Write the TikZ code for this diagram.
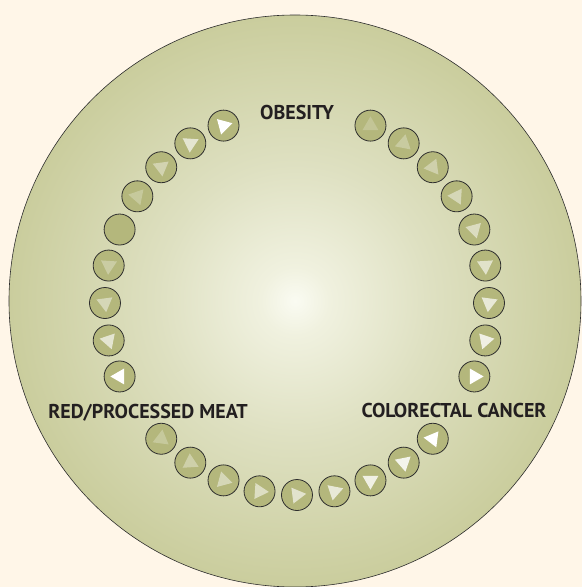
\documentclass[tikz,border=0pt]{standalone}
\usepackage{fontspec}
\setmainfont{PT Sans}
\usetikzlibrary{shapes.geometric}
\definecolor{cream}{HTML}{FFF6E8}
\definecolor{olivefill}{HTML}{B4B77C}
\definecolor{rim}{HTML}{2E2E2E}
\definecolor{ink}{HTML}{231F20}
\definecolor{glowA}{HTML}{FAFBF2}
\definecolor{glowB}{HTML}{F0F1DF}
\definecolor{glowC}{HTML}{DEE0C1}
\definecolor{glowD}{HTML}{CACD9D}
\definecolor{glowE}{HTML}{BDC088}
\definecolor{glowF}{HTML}{B2B577}
\pgfdeclareradialshading{discglow}{\pgfpoint{0bp}{0bp}}{%
  color(0bp)=(glowA); color(3bp)=(glowB); color(12bp)=(glowC);
  color(25bp)=(glowD); color(35bp)=(glowE); color(50bp)=(glowF)}
\begin{document}
\begin{tikzpicture}[
  x=1pt, y=1pt,
  font=\fontsize{20}{22}\selectfont\bfseries,
  lbl/.style={text=ink, inner sep=0pt, anchor=base},
  dot/.style={circle, draw=rim, line width=0.8pt, fill=olivefill, minimum size=31pt, inner sep=0pt},
  tip/.style={regular polygon, regular polygon sides=3, fill=white, minimum size=18.5pt, inner sep=0pt},
]
\useasboundingbox[fill=cream] (-297,-284) rectangle (285,303);
\shadedraw[shading=discglow, draw=rim, line width=0.6pt] (-2,2) circle (286pt);
\foreach \k/\d/\o in {2/-1/0.2, 3/-1/0.28, 4/-1/0.36, 5/-1/0.45, 6/-1/0.52, 7/-1/0.6, 8/-1/0.7, 9/-1/0.8, 10/-1/1,
                      12/1/1, 13/1/0.85, 14/1/0.8, 15/1/0.7, 16/1/0.62, 17/1/0.55, 18/1/0.45, 19/1/0.35, 20/1/0.25,
                      22/1/1, 23/1/0.65, 24/1/0.45, 25/1/0.3, 26/1/0,
                      27/-1/0.25, 28/-1/0.4, 29/-1/0.65, 30/-1/1} {
  \node[dot] (d\k) at ({90-11.25*\k}:192) {};
  \ifdim\o pt>0pt
    \node[tip, rotate={\d*97.5-11.25*\k}, fill opacity=\o] (t\k) at (d\k) {};
  \fi
}
\node[lbl] (obesity) at (0,183.7) {OBESITY};
\node[lbl] (cancer) at (157,-114.7) {COLORECTAL CANCER};
\node[lbl] (meat) at (-149,-115.3) {RED/PROCESSED MEAT};
\end{tikzpicture}
\end{document}
